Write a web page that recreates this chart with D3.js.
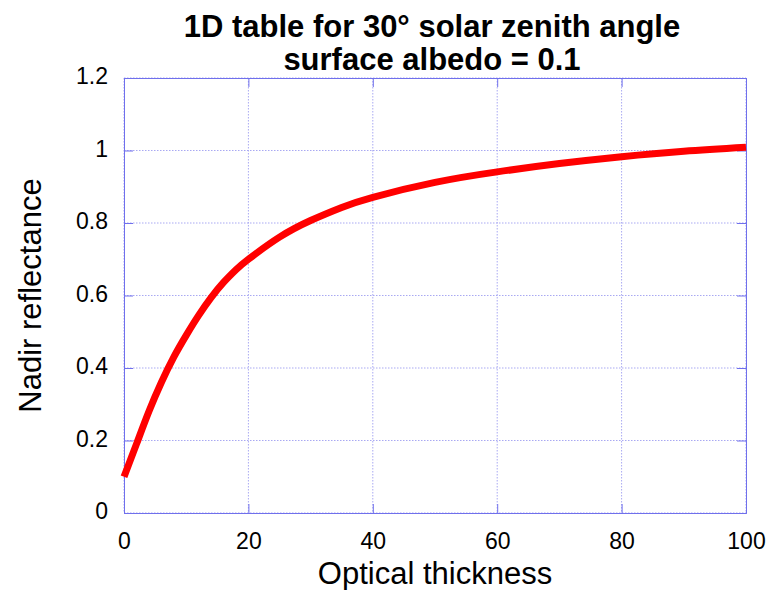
<!DOCTYPE html>
<html>
  <head>
    <style>
      body { margin: 0; background: #fff; }
      text { font-family: "Liberation Sans", Arial, Helvetica, sans-serif; fill: #000; }
    </style>
  </head>
  <body>
    <script src="https://d3js.org/d3.v7.min.js"></script>
    <script type="text/javascript">

      const width = 769;
      const height = 590;
      const plotLeft = 124;
      const plotRight = 746;
      const plotTop = 78;
      const plotBottom = 513;

      // values
      const opticalThickness = [0, 2, 4, 6, 8, 10, 12, 14, 16, 18, 20, 25, 30, 35, 40, 50, 60, 70, 80, 90, 100];
      const reflectance = [0.10, 0.19, 0.28, 0.36, 0.43, 0.49, 0.545, 0.594, 0.636, 0.671, 0.70, 0.761, 0.807, 0.843, 0.871, 0.912, 0.941, 0.964, 0.983, 0.998, 1.009];
      const xTicks = [0, 20, 40, 60, 80, 100];
      const yTicks = [0, 0.2, 0.4, 0.6, 0.8, 1, 1.2];
      const titleLines = ['1D table for 30° solar zenith angle', 'surface albedo = 0.1'];

      const frameColor = '#7070ec';
      const gridColor = '#a9a9f2';

      const svg = d3.select('body')
        .append('svg')
        .attr('width', width)
        .attr('height', height);

      const xScale = d3.scaleLinear().domain([0, 100]).range([plotLeft, plotRight]);
      const yScale = d3.scaleLinear().domain([0, 1.2]).range([plotBottom, plotTop]);

      // dotted grid
      const grid = svg.append('g');
      grid.selectAll('.vgrid')
        .data(xTicks)
        .enter()
        .append('line')
        .attr('x1', (d) => xScale(d)).attr('x2', (d) => xScale(d))
        .attr('y1', plotTop).attr('y2', plotBottom)
        .attr('stroke', gridColor)
        .attr('stroke-dasharray', '1.5,1.5');
      grid.selectAll('.hgrid')
        .data(yTicks)
        .enter()
        .append('line')
        .attr('x1', plotLeft).attr('x2', plotRight)
        .attr('y1', (d) => yScale(d)).attr('y2', (d) => yScale(d))
        .attr('stroke', gridColor)
        .attr('stroke-dasharray', '1.5,1.5');

      // axes with inward ticks on all four sides
      const fmt = (d) => String(d);
      const axes = [
        svg.append('g').attr('transform', `translate(0, ${plotBottom})`)
          .call(d3.axisBottom(xScale).tickValues(xTicks).tickFormat(fmt).tickSize(-9).tickPadding(20)),
        svg.append('g').attr('transform', `translate(0, ${plotTop})`)
          .call(d3.axisTop(xScale).tickValues(xTicks).tickFormat('').tickSize(-9)),
        svg.append('g').attr('transform', `translate(${plotLeft}, 0)`)
          .call(d3.axisLeft(yScale).tickValues(yTicks).tickFormat(fmt).tickSize(-9).tickPadding(16)),
        svg.append('g').attr('transform', `translate(${plotRight}, 0)`)
          .call(d3.axisRight(yScale).tickValues(yTicks).tickFormat('').tickSize(-9))
      ];
      axes.forEach((g) => {
        g.selectAll('path, line').attr('stroke', frameColor);
        g.selectAll('text').attr('font-size', 23).attr('fill', '#000');
      });
      axes[0].selectAll('text').attr('dy', '0.71em');
      axes[2].selectAll('text').attr('dy', '0.25em');

      // curve
      const line = d3.line()
        .x((d, i) => xScale(opticalThickness[i]))
        .y((d) => yScale(d))
        .curve(d3.curveNatural);

      svg.append('path')
        .attr('d', line(reflectance))
        .attr('fill', 'none')
        .attr('stroke', '#ff0000')
        .attr('stroke-width', 7);

      // titles
      svg.selectAll('.title')
        .data(titleLines)
        .enter()
        .append('text')
        .attr('x', (plotLeft + plotRight) / 2 - 3)
        .attr('y', (d, i) => 37 + i * 33)
        .attr('text-anchor', 'middle')
        .attr('font-size', 31)
        .attr('font-weight', 'bold')
        .text((d) => d);

      svg.append('text')
        .attr('x', (plotLeft + plotRight) / 2)
        .attr('y', 584)
        .attr('text-anchor', 'middle')
        .attr('font-size', 31)
        .text('Optical thickness');

      svg.append('text')
        .attr('transform', `translate(41, ${(plotTop + plotBottom) / 2}) rotate(-90)`)
        .attr('text-anchor', 'middle')
        .attr('font-size', 31)
        .text('Nadir reflectance');

    </script>
  </body>
</html>
